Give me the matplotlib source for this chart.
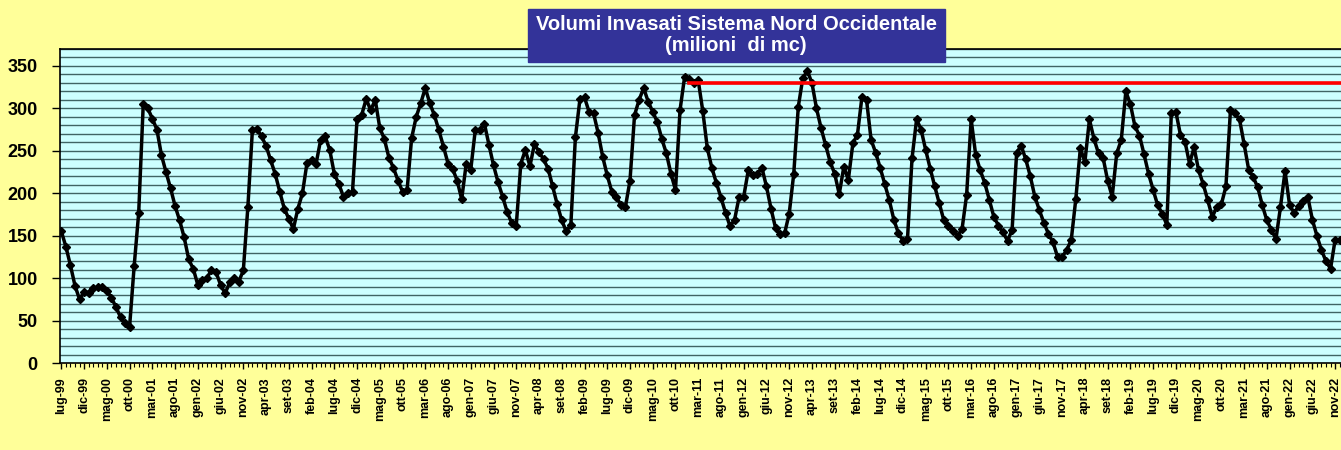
import numpy as np
import matplotlib
matplotlib.use("Agg")
import matplotlib.pyplot as plt
from matplotlib.patches import Rectangle

# ── Data (monthly, lug-99 .. dic-22) ──────────────────────────────────────────
VOLUMES = [
    155, 137, 115, 91, 75, 84, 83, 88, 89, 90,
    85, 77, 66, 54, 47, 43, 114, 177, 305, 300,
    288, 275, 245, 225, 206, 185, 168, 148, 122, 111,
    92, 98, 100, 110, 107, 92, 82, 95, 100, 96,
    109, 184, 275, 276, 267, 256, 239, 223, 202, 182,
    170, 158, 182, 200, 236, 239, 235, 263, 267, 251,
    223, 211, 196, 200, 202, 287, 292, 311, 298, 310,
    277, 264, 242, 230, 215, 202, 204, 265, 290, 306,
    324, 306, 292, 274, 255, 235, 229, 215, 193, 235,
    228, 275, 275, 282, 257, 233, 213, 196, 178, 165,
    162, 235, 251, 232, 258, 249, 240, 229, 208, 187,
    168, 155, 163, 266, 311, 313, 296, 294, 271, 243,
    221, 202, 196, 186, 184, 215, 292, 310, 324, 308,
    296, 284, 264, 247, 223, 204, 298, 337, 335, 330,
    333, 297, 253, 230, 212, 195, 177, 161, 169, 196,
    196, 227, 221, 223, 230, 208, 182, 159, 152, 153,
    176, 223, 302, 336, 344, 330, 300, 277, 257, 237,
    223, 199, 231, 216, 259, 269, 314, 310, 263, 248,
    230, 211, 192, 169, 153, 144, 146, 241, 287, 275,
    251, 229, 208, 188, 168, 162, 156, 150, 158, 198,
    287, 245, 227, 212, 192, 172, 162, 154, 144, 157,
    248, 256, 240, 220, 196, 180, 165, 152, 142, 125,
    125, 133, 145, 193, 253, 237, 287, 264, 247, 242,
    215, 196, 247, 263, 320, 305, 279, 268, 246, 223,
    204, 186, 176, 163, 294, 296, 269, 261, 235, 254,
    227, 211, 192, 172, 184, 187, 208, 298, 294, 287,
    258, 228, 219, 207, 186, 168, 157, 146, 184, 226,
    186, 177, 185, 191, 196, 169, 150, 133, 120, 111,
    145, 145,
]

REF_LEVEL = 330      # red reference line
REF_START = 138      # month index where the red line starts

TICK_LABELS = [
    "lug-99", "dic-99", "mag-00", "ott-00", "mar-01", "ago-01", "gen-02", "giu-02",
    "nov-02", "apr-03", "set-03", "feb-04", "lug-04", "dic-04", "mag-05", "ott-05",
    "mar-06", "ago-06", "gen-07", "giu-07", "nov-07", "apr-08", "set-08", "feb-09",
    "lug-09", "dic-09", "mag-10", "ott-10", "mar-11", "ago-11", "gen-12", "giu-12",
    "nov-12", "apr-13", "set-13", "feb-14", "lug-14", "dic-14", "mag-15", "ott-15",
    "mar-16", "ago-16", "gen-17", "giu-17", "nov-17", "apr-18", "set-18", "feb-19",
    "lug-19", "dic-19", "mag-20", "ott-20", "mar-21", "ago-21", "gen-22", "giu-22",
    "nov-22",
]
TICK_STEP = 5

# ── Style ──────────────────────────────────────────────────────────────────────
FIG_BG = "#FFFF99"
PLOT_BG = "#CCFFFF"
GRID_COLOR = "#3F6464"
TITLE_BG = "#333399"

plt.rcParams.update({
    "font.family": ["Liberation Sans", "DejaVu Sans"],
    "font.weight": "bold",
})

W, H = 1341, 450
fig = plt.figure(figsize=(W / 100, H / 100), dpi=100, facecolor=FIG_BG)
ax = fig.add_axes([60 / W, (H - 363) / H, (W - 60) / W, (363 - 49) / H])
ax.set_facecolor(PLOT_BG)

x = np.arange(len(VOLUMES))

# horizontal grid every 10
for yv in range(10, 371, 10):
    ax.axhline(yv, color=GRID_COLOR, lw=1.0, zorder=1)

ax.plot(x, VOLUMES, color="black", lw=2.5, marker="D", markersize=4.5,
        markerfacecolor="black", markeredgecolor="black", zorder=3)
ax.plot([REF_START, len(VOLUMES) - 1], [REF_LEVEL, REF_LEVEL],
        color="#FF0000", lw=2.6, zorder=4)

ax.set_xlim(-0.3, len(VOLUMES) - 0.7)
ax.set_ylim(0, 370)

ax.set_yticks(range(0, 351, 50))
ax.set_yticklabels([str(v) for v in range(0, 351, 50)], fontsize=13, fontweight="bold")
ax.tick_params(axis="y", length=6, width=1, pad=10, direction="out")

ticks = np.arange(0, len(TICK_LABELS) * TICK_STEP, TICK_STEP)
ax.set_xticks(ticks)
ax.set_xticklabels(TICK_LABELS, rotation=90, fontsize=9, fontweight="bold")
ax.set_xticks(np.arange(0, len(VOLUMES), 1), minor=True)
ax.tick_params(axis="x", which="major", length=4, width=1, pad=6, direction="out")
ax.tick_params(axis="x", which="minor", length=3, width=0.8, direction="out")

for side in ["left", "bottom", "top"]:
    ax.spines[side].set_color("black")
    ax.spines[side].set_linewidth(1.2)
ax.spines["right"].set_visible(False)

# title box
fig.patches.append(Rectangle((528 / W, 1 - 62 / H), (945 - 528) / W, (62 - 9) / H,
                             transform=fig.transFigure, facecolor=TITLE_BG,
                             edgecolor=TITLE_BG, zorder=9))
fig.text(736 / W, 1 - 35 / H, "Volumi Invasati Sistema Nord Occidentale\n(milioni  di mc)",
         ha="center", va="center", color="white", fontsize=14.5, fontweight="bold",
         linespacing=1.1, zorder=10)

fig.savefig("out.png", dpi=100, facecolor=FIG_BG)
